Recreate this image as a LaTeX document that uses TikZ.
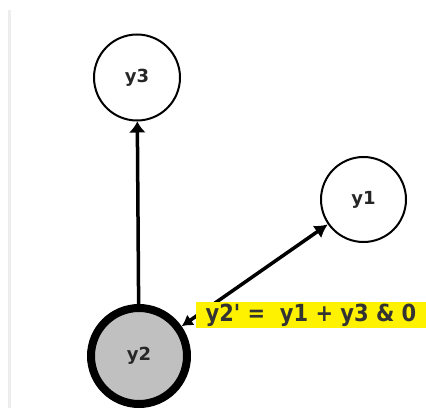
\documentclass[tikz,border=0pt]{standalone}
\usepackage{fontspec}
\usepackage{graphicx}
\setmainfont{DejaVu Sans}
\newfontfamily\labfont{DejaVu Sans}[Ligatures=TeXOff]
\usetikzlibrary{arrows.meta}
\definecolor{txtgray}{HTML}{333333}
\definecolor{nodegray}{HTML}{C0C0C0}
\tikzset{
  circ/.style={circle, draw=black, line width=2pt, fill=white, inner sep=0pt,
    font=\bfseries\fontsize{18}{18}\selectfont, text=black!85},
  conn/.style={line width=3.5pt, draw=black},
  lab/.style={fill=yellow, inner sep=0pt, minimum width=230pt, minimum height=26pt,
    font=\labfont\bfseries\fontsize{21}{21}\selectfont, text=txtgray}
}
\begin{document}
\begin{tikzpicture}[x=1pt,y=1pt]
\useasboundingbox (0,0) rectangle (426,408);
\draw[line width=3pt, draw=black!7] (9,398) -- (9,0);
\node[circ, minimum size=86pt] (y3) at (137,330.5) {y3};
\node[circ, minimum size=85pt] (y1) at (363.5,208.5) {y1};
\node[circ, minimum size=96pt, line width=8pt, fill=nodegray] (y2) at (139,52) {y2};
\draw[conn, -{Latex[length=11pt,width=17pt]}] (y2) -- (y3);
\draw[conn, {Latex[length=11pt,width=13pt]}-{Latex[length=13pt,width=15pt]}] (y2) -- (y1);
\node[lab] (eq) at (311,93) {\scalebox{1}[1.12]{y2' =\ \ y1 + y3 \& 0}};
\end{tikzpicture}
\end{document}
